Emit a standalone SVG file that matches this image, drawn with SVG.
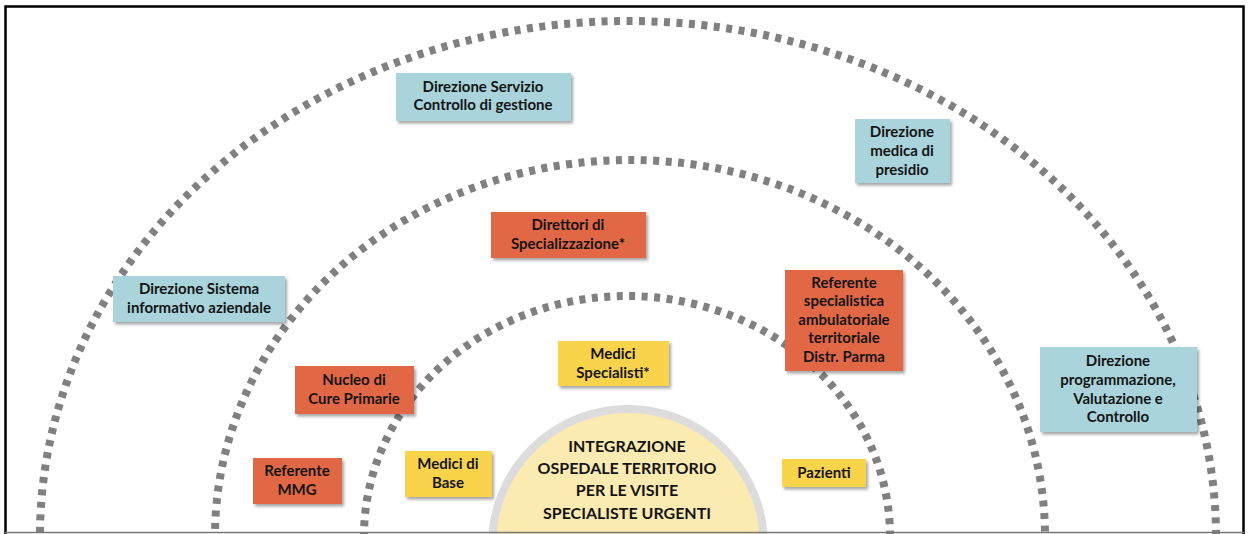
<svg xmlns="http://www.w3.org/2000/svg" width="1248" height="534" viewBox="0 0 1248 534">
  <defs>
    <filter id="shadow" x="-10%" y="-10%" width="130%" height="140%">
      <feDropShadow dx="2" dy="2.5" stdDeviation="1.6" flood-color="#000" flood-opacity="0.35"/>
    </filter>
    <clipPath id="frame">
      <rect x="6" y="7" width="1237" height="527"/>
    </clipPath>
  </defs>
  <style>
    .ring { fill: none; stroke: #808080; stroke-width: 8; stroke-dasharray: 6 6.5; }
    .blue { fill: #A9D4DC; }
    .orange { fill: #E26745; }
    .yellow { fill: #F9D44B; }
    .box { filter: url(#shadow); }
    .lbl { font-family: Lato, "Open Sans", "Liberation Sans", sans-serif; font-weight: bold; font-size: 15px; fill: #141414; text-anchor: middle; }
    .core { font-family: Lato, "Open Sans", "Liberation Sans", sans-serif; font-weight: bold; font-size: 16px; fill: #141414; text-anchor: middle; }
  </style>

  <rect x="0" y="0" width="1248" height="534" fill="#fff"/>

  <!-- concentric dashed rings -->
  <g id="connectors" clip-path="url(#frame)">
    <ellipse class="ring" cx="628" cy="536" rx="588" ry="515"/>
    <ellipse class="ring" cx="630" cy="536" rx="415" ry="376"/>
    <ellipse class="ring" cx="627" cy="536" rx="263" ry="240"/>
  </g>

  <!-- central disc -->
  <g id="core" clip-path="url(#frame)">
    <circle cx="628" cy="545" r="136" fill="#FCEBB1" stroke="#DCDCDC" stroke-width="8"/>
    <text class="core" x="627" y="452">INTEGRAZIONE</text>
    <text class="core" x="627" y="474">OSPEDALE TERRITORIO</text>
    <text class="core" x="627" y="496">PER LE VISITE</text>
    <text class="core" x="627" y="519">SPECIALISTE URGENTI</text>
  </g>

  <g id="dir-servizio">
    <rect class="box blue" x="396" y="73" width="175" height="48"/>
    <text class="lbl" x="483" y="92">Direzione Servizio</text>
    <text class="lbl" x="483" y="110">Controllo di gestione</text>
  </g>

  <g id="dir-medica">
    <rect class="box blue" x="855" y="119" width="95" height="64"/>
    <text class="lbl" x="902" y="137">Direzione</text>
    <text class="lbl" x="902" y="156">medica di</text>
    <text class="lbl" x="902" y="175">presidio</text>
  </g>

  <g id="direttori">
    <rect class="box orange" x="491" y="212" width="155" height="46"/>
    <text class="lbl" x="568" y="230">Direttori di</text>
    <text class="lbl" x="568" y="249">Specializzazione*</text>
  </g>

  <g id="dir-sistema">
    <rect class="box blue" x="113" y="276" width="172" height="46"/>
    <text class="lbl" x="199" y="294">Direzione Sistema</text>
    <text class="lbl" x="199" y="313">informativo aziendale</text>
  </g>

  <g id="referente-spec">
    <rect class="box orange" x="785" y="270" width="118" height="101"/>
    <text class="lbl" x="844" y="288">Referente</text>
    <text class="lbl" x="844" y="306">specialistica</text>
    <text class="lbl" x="844" y="325">ambulatoriale</text>
    <text class="lbl" x="844" y="343">territoriale</text>
    <text class="lbl" x="844" y="362">Distr. Parma</text>
  </g>

  <g id="medici-specialisti">
    <rect class="box yellow" x="558" y="341" width="111" height="45"/>
    <text class="lbl" x="613" y="359">Medici</text>
    <text class="lbl" x="613" y="378">Specialisti*</text>
  </g>

  <g id="nucleo">
    <rect class="box orange" x="295" y="366" width="119" height="48"/>
    <text class="lbl" x="354" y="385">Nucleo di</text>
    <text class="lbl" x="354" y="404">Cure Primarie</text>
  </g>

  <g id="dir-programmazione">
    <rect class="box blue" x="1040" y="347" width="157" height="85"/>
    <text class="lbl" x="1118" y="366">Direzione</text>
    <text class="lbl" x="1118" y="385">programmazione,</text>
    <text class="lbl" x="1118" y="404">Valutazione e</text>
    <text class="lbl" x="1118" y="422">Controllo</text>
  </g>

  <g id="referente-mmg">
    <rect class="box orange" x="253" y="458" width="89" height="46"/>
    <text class="lbl" x="297" y="476">Referente</text>
    <text class="lbl" x="297" y="495">MMG</text>
  </g>

  <g id="medici-base">
    <rect class="box yellow" x="405" y="451" width="87" height="46"/>
    <text class="lbl" x="448" y="469">Medici di</text>
    <text class="lbl" x="448" y="488">Base</text>
  </g>

  <g id="pazienti">
    <rect class="box yellow" x="782" y="459" width="84" height="28"/>
    <text class="lbl" x="824" y="478">Pazienti</text>
  </g>

  <!-- outer frame -->
  <path d="M5.5 534 V6.5 H1243.5 V534" fill="none" stroke="#000" stroke-width="2.5"/>
  <line x1="5" y1="532.5" x2="1244" y2="532.5" stroke="#777" stroke-width="1.5"/>
</svg>
